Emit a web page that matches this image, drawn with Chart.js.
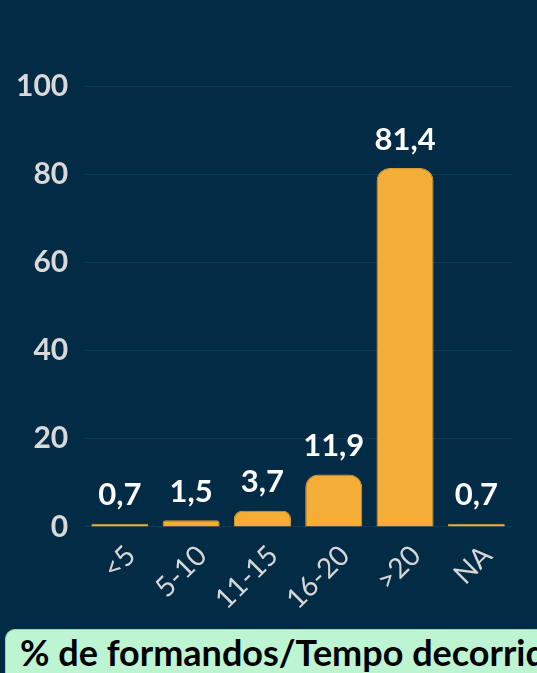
<!DOCTYPE html>
<html>
<head>
<meta charset="utf-8">
<script src="https://cdn.jsdelivr.net/npm/chart.js@4.4.0/dist/chart.umd.min.js"></script>
<style>
  html, body { margin: 0; padding: 0; background: #022b45; overflow: hidden; }
  body { width: 537px; height: 673px; position: relative; }
  #wrap { position: absolute; left: 0; top: 0; width: 537px; height: 620px; }
  #titulo {
    position: absolute; left: 5px; top: 629px; width: 600px; height: 60px;
    background: #bdf5d3; border: 1px solid #9fd6b6; border-radius: 10px;
    font-family: Lato, sans-serif; font-weight: bold; font-size: 36px; color: #000;
    white-space: nowrap; box-sizing: border-box; padding-left: 14px; line-height: 44px;
  }
</style>
</head>
<body>
<div id="wrap"><canvas id="grafico"></canvas></div>
<div id="titulo">% de formandos/Tempo decorrido</div>
<script>
const categorias = ["<5", "5-10", "11-15", "16-20", ">20", "NA"]
const percentagens = [0.7, 1.5, 3.7, 11.9, 81.4, 0.7]
const ticksY = [0, 20, 40, 60, 80, 100]

const grafico = document.getElementById("grafico")

// escreve o valor por cima de cada barra
const rotulos = {
  id: "rotulos",
  afterDatasetsDraw(chart) {
    const ctx = chart.ctx
    const meta = chart.getDatasetMeta(0)
    ctx.save()
    ctx.fillStyle = "#ffffff"
    ctx.font = "bold 31px Lato"
    ctx.textAlign = "center"
    ctx.textBaseline = "bottom"
    meta.data.forEach((barra, i) => {
      const txt = percentagens[i].toFixed(1).replace(".", ",")
      ctx.fillText(txt, barra.x, barra.y - 13)
    })
    ctx.restore()
  },
}

const pintarGrafica = () => {
  new Chart(grafico, {
    type: "bar",
    data: {
      labels: categorias,
      datasets: [
        {
          data: percentagens,
          backgroundColor: "#f4ad37",
          borderColor: "#d99a30",
          borderWidth: 1,
          borderRadius: { topLeft: 13, topRight: 13 },
          borderSkipped: "bottom",
          barPercentage: 0.8,
          categoryPercentage: 1,
        },
      ],
    },
    options: {
      responsive: true,
      maintainAspectRatio: false,
      animation: false,
      layout: { padding: { left: 0, right: 25, top: 86, bottom: 0 } },
      plugins: { legend: { display: false }, tooltip: { enabled: false } },
      scales: {
        x: {
          grid: { display: false },
          border: { display: false },
          ticks: {
            color: "#d6d6d6",
            font: { family: "Lato", size: 28 },
            maxRotation: 45,
            minRotation: 45,
            padding: 4,
            labelOffset: 11,
          },
        },
        y: {
          min: 0,
          max: 100,
          afterBuildTicks: (axis) => { axis.ticks = ticksY.map((v) => ({ value: v })) },
          grid: { color: "#0d3a56", lineWidth: 1, drawTicks: false },
          border: { display: false },
          ticks: {
            color: "#d9d9d9",
            font: { family: "Lato", size: 30, weight: "bold" },
            padding: 16,
          },
        },
      },
    },
    plugins: [rotulos],
  })
}

window.addEventListener("load", pintarGrafica)
</script>
</body>
</html>
